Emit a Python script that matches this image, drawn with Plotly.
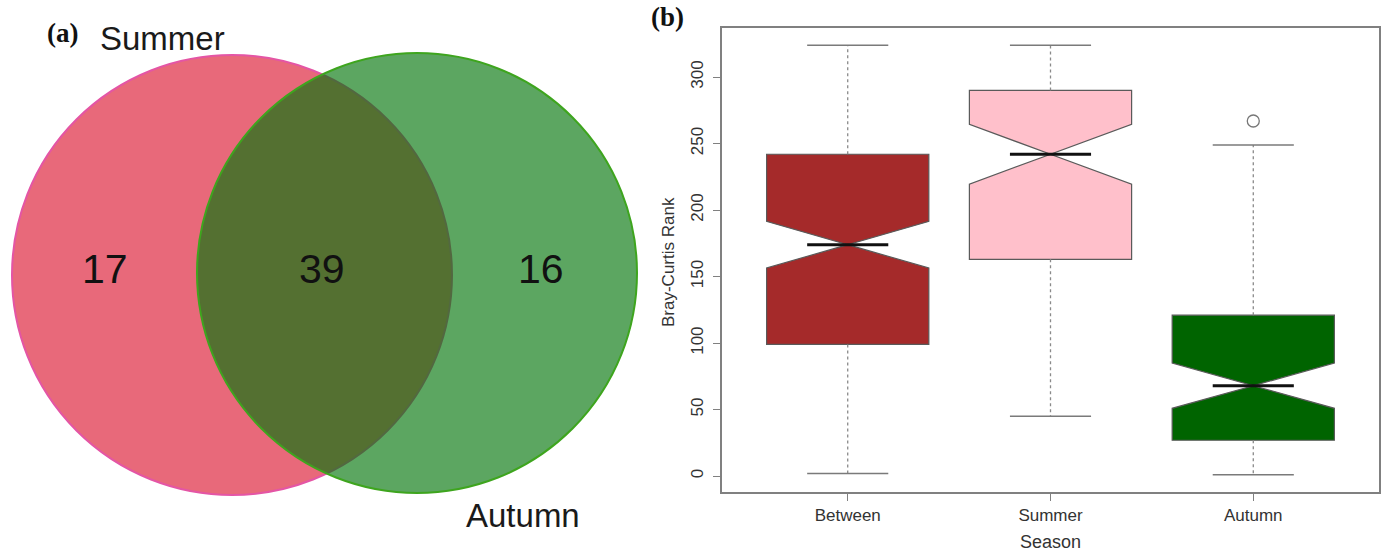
import plotly.graph_objects as go

W, H = 1389, 551      # browser window
OFF = 0               # body margin removed via post_script
FW, FH = W - OFF, H - OFF

# ---------------- data ----------------
categories = ["Between", "Summer", "Autumn"]
q1 = [99, 163, 27]
medians = [174, 242, 68]
q3 = [242, 290, 121]
whisker_low = [2, 45, 1]
whisker_high = [324, 324, 249]
notch_half = [17.5, 22.5, 17]
outlier_cat = ["Autumn"]
outlier_val = [267]
box_colors = ["#A52A2A", "#FFC0CB", "#006400"]
y_ticks = [0, 50, 100, 150, 200, 250, 300]

venn_sets = ["Summer", "Autumn"]
venn_counts = [17, 39, 16]  # Summer only, both, Autumn only

# ---------------- layout helpers (window pixels -> paper) ----------------
def px(x):
    return (x - OFF) / FW

def py(y):
    return 1 - (y - OFF) / FH

SANS = "Liberation Sans, Arial, sans-serif"
SERIF = "Liberation Serif, Times New Roman, serif"

# Venn geometry (pixel layout)
R = 220
c_sum = (232, 275)
c_aut = (417, 273)

pos = [i + 1 for i in range(len(categories))]
half_box = 0.4
half_staple = 0.2

fig = go.Figure()

for i, cat in enumerate(categories):
    fig.add_trace(go.Box(
        x=[pos[i]], q1=[q1[i]], median=[medians[i]], q3=[q3[i]],
        lowerfence=[q1[i]], upperfence=[q3[i]],
        notched=True, notchspan=[notch_half[i]], notchwidth=0.5,
        width=2 * half_box, fillcolor=box_colors[i],
        line=dict(color="#5a5a5a", width=1.2), whiskerwidth=0,
        boxpoints=False, showlegend=False, name=cat, hoverinfo="skip",
    ))

# dashed whiskers, staples, medians
wx, wy = [], []
sx, sy = [], []
mx, my = [], []
for i in range(len(categories)):
    wx += [pos[i], pos[i], None, pos[i], pos[i], None]
    wy += [q3[i], whisker_high[i], None, q1[i], whisker_low[i], None]
    sx += [pos[i] - half_staple, pos[i] + half_staple, None,
           pos[i] - half_staple, pos[i] + half_staple, None]
    sy += [whisker_high[i], whisker_high[i], None, whisker_low[i], whisker_low[i], None]
    mx += [pos[i] - half_staple, pos[i] + half_staple, None]
    my += [medians[i], medians[i], None]

fig.add_trace(go.Scatter(x=wx, y=wy, mode="lines", line=dict(color="#8a8a8a", width=1.3, dash="3px,3px"),
                         showlegend=False, hoverinfo="skip"))
fig.add_trace(go.Scatter(x=sx, y=sy, mode="lines", line=dict(color="#7a7a7a", width=1.5),
                         showlegend=False, hoverinfo="skip"))
fig.add_trace(go.Scatter(x=mx, y=my, mode="lines", line=dict(color="#111111", width=3),
                         showlegend=False, hoverinfo="skip"))
fig.add_trace(go.Scatter(x=[pos[categories.index(c)] for c in outlier_cat], y=outlier_val, mode="markers",
                         marker=dict(symbol="circle-open", size=12, color="#777777", line=dict(width=1.3)),
                         showlegend=False, hoverinfo="skip"))

# ---------------- Venn shapes ----------------
def circ(c, **kw):
    return dict(type="circle", xref="paper", yref="paper",
                x0=px(c[0] - R), x1=px(c[0] + R), y0=py(c[1] + R), y1=py(c[1] - R), **kw)

shapes = [
    circ(c_sum, fillcolor="rgb(232,105,122)", line=dict(color="rgb(228,85,165)", width=2)),
    circ(c_aut, fillcolor="rgb(0,116,8)", opacity=0.64, line=dict(width=0)),
    circ(c_aut, fillcolor="rgba(0,0,0,0)", line=dict(color="rgb(62,165,30)", width=2)),
]

# label positions from geometry
left_sum = c_sum[0] - R
right_sum = c_sum[0] + R
left_aut = c_aut[0] - R
right_aut = c_aut[0] + R
region_x = [(left_sum + left_aut) / 2, (left_aut + right_sum) / 2 - 3, (right_sum + right_aut) / 2 - 4]

annotations = []
for xv, cnt in zip(region_x, venn_counts):
    annotations.append(dict(x=px(xv), y=py(269), xref="paper", yref="paper", text=str(cnt), showarrow=False,
                            xanchor="center", yanchor="middle", font=dict(family=SANS, size=41, color="#111111")))
annotations.append(dict(x=px(162), y=py(38), xref="paper", yref="paper", text=venn_sets[0], showarrow=False,
                        xanchor="center", yanchor="middle", font=dict(family=SANS, size=33, color="#1a1a1a")))
annotations.append(dict(x=px(523), y=py(515), xref="paper", yref="paper", text=venn_sets[1], showarrow=False,
                        xanchor="center", yanchor="middle", font=dict(family=SANS, size=33, color="#1a1a1a")))
annotations.append(dict(x=px(62), y=py(33), xref="paper", yref="paper", text="<b>(a)</b>", showarrow=False,
                        xanchor="center", yanchor="middle", font=dict(family=SERIF, size=27, color="#111111")))
annotations.append(dict(x=px(667), y=py(17), xref="paper", yref="paper", text="<b>(b)</b>", showarrow=False,
                        xanchor="center", yanchor="middle", font=dict(family=SERIF, size=27, color="#111111")))
annotations.append(dict(x=px(668), y=py(262), xref="paper", yref="paper", text="Bray-Curtis Rank", showarrow=False,
                        textangle=-90, xanchor="center", yanchor="middle", font=dict(family=SANS, size=17, color="#333333")))
annotations.append(dict(x=px(1050), y=py(542), xref="paper", yref="paper", text="Season", showarrow=False,
                        xanchor="center", yanchor="middle", font=dict(family=SANS, size=18, color="#333333")))

fig.update_layout(
    width=FW, height=FH, margin=dict(l=0, r=0, t=0, b=0),
    paper_bgcolor="white", plot_bgcolor="white",
    boxmode="overlay",
    shapes=shapes, annotations=annotations,
    xaxis=dict(domain=[px(722), px(1379)], range=[0.38, 3.62], tickvals=pos, ticktext=categories,
               showgrid=False, zeroline=False, showline=True, mirror=True, linecolor="#808080", linewidth=1.5,
               ticks="outside", ticklen=7, tickcolor="#808080", tickwidth=1.3,
               tickfont=dict(family=SANS, size=17, color="#333333")),
    yaxis=dict(domain=[py(492), py(28)], range=[-11.9, 336.9], tickvals=y_ticks,
               showgrid=False, zeroline=False, showline=True, mirror=True, linecolor="#808080", linewidth=1.5,
               ticks="outside", ticklen=7, tickcolor="#808080", tickwidth=1.3, tickangle=-90,
               ticklabelstandoff=3,
               tickfont=dict(family=SANS, size=17, color="#333333")),
)

fig.write_html("out.html", config={"displayModeBar": False},
               post_script="document.body.style.margin='0px';")
